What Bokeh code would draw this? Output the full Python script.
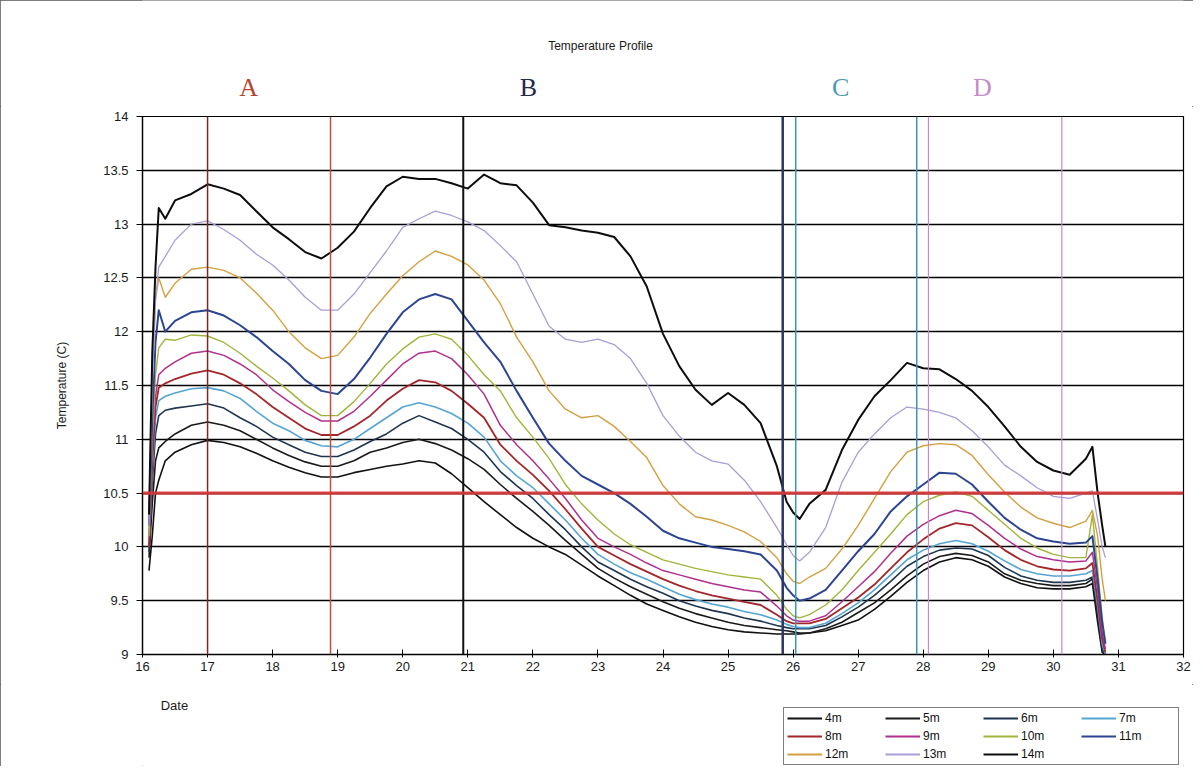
from bokeh.plotting import figure
from bokeh.layouts import column
from bokeh.models import (Range1d, Span, Label, Legend, LegendItem,
                          FixedTicker, CustomJSTickFormatter)
from bokeh.embed import file_html
from bokeh.resources import INLINE

# ---------------- data ----------------
days = [16.1, 16.15, 16.2, 16.25, 16.35, 16.5, 16.75,
        17.0, 17.25, 17.5, 17.75, 18.0, 18.25, 18.5, 18.75, 19.0, 19.25,
        19.5, 19.75, 20.0, 20.25, 20.5, 20.75, 21.0, 21.25, 21.5, 21.75,
        22.0, 22.25, 22.5, 22.75, 23.0, 23.25, 23.5, 23.75, 24.0, 24.25,
        24.5, 24.75, 25.0, 25.25, 25.5, 25.75,
        25.9, 26.0, 26.1,
        26.25, 26.5, 26.75, 27.0, 27.25, 27.5, 27.75, 28.0, 28.25, 28.5,
        28.75, 29.0, 29.25, 29.5, 29.75, 30.0, 30.25, 30.5,
        30.6, 30.68, 30.75, 30.8]

t4 = [9.78, 10.1, 10.5, 10.62, 10.8, 10.88, 10.95,
      10.99, 10.97, 10.93, 10.87, 10.8, 10.74, 10.69, 10.65, 10.65, 10.69, 10.72, 10.75, 10.77, 10.8, 10.78, 10.68, 10.55, 10.42, 10.3, 10.18,
      10.08, 10.0, 9.93, 9.83, 9.73, 9.64, 9.55, 9.47, 9.41, 9.35, 9.3, 9.26, 9.23, 9.21, 9.2, 9.19,
      9.19, 9.19, 9.19,
      9.2, 9.22, 9.27, 9.32, 9.42, 9.54, 9.67, 9.78, 9.86, 9.9, 9.88, 9.82, 9.72, 9.66, 9.62, 9.61, 9.61, 9.63,
      9.66, 9.3, 9.02, 9.0]
t5 = [9.9, 10.4, 10.8, 10.92, 10.98, 11.05, 11.13,
      11.16, 11.13, 11.08, 11.0, 10.92, 10.85, 10.79, 10.75, 10.75, 10.8, 10.88, 10.92, 10.97, 11.0, 10.96, 10.9, 10.82, 10.72, 10.58, 10.45,
      10.33, 10.2, 10.06, 9.93, 9.8, 9.71, 9.63, 9.56, 9.49, 9.43, 9.38, 9.34, 9.3, 9.27, 9.25, 9.23,
      9.22, 9.21, 9.2,
      9.2, 9.24, 9.3, 9.39, 9.48, 9.6, 9.73, 9.84, 9.91, 9.94, 9.92, 9.86, 9.75, 9.69, 9.66, 9.64, 9.64, 9.66,
      9.7, 9.35, 9.05, 9.0]
t6 = [9.95, 10.6, 11.05, 11.22, 11.27, 11.29, 11.31,
      11.33, 11.29, 11.2, 11.12, 11.02, 10.95, 10.88, 10.84, 10.84, 10.9, 10.98, 11.05, 11.15, 11.22, 11.16, 11.1, 11.0, 10.88, 10.7, 10.57,
      10.45, 10.3, 10.16, 10.0, 9.86, 9.78, 9.7, 9.63, 9.57, 9.5, 9.45, 9.41, 9.38, 9.34, 9.31, 9.27,
      9.25, 9.24, 9.24,
      9.24, 9.27, 9.35, 9.44, 9.55, 9.68, 9.82, 9.91, 9.97, 9.99, 9.98, 9.92, 9.81, 9.73, 9.69, 9.67, 9.67, 9.69,
      9.72, 9.4, 9.05, 9.0]
t7 = [10.0, 10.7, 11.2, 11.36, 11.4, 11.43, 11.47,
      11.48, 11.45, 11.38, 11.26, 11.15, 11.08, 10.99, 10.94, 10.93, 11.0, 11.1, 11.2, 11.3, 11.34, 11.3, 11.24, 11.15, 11.02, 10.8, 10.66,
      10.55, 10.4, 10.25, 10.08, 9.93, 9.84, 9.76, 9.7, 9.63, 9.56, 9.51, 9.47, 9.44, 9.4, 9.37, 9.32,
      9.28, 9.26, 9.25,
      9.25, 9.29, 9.38, 9.48, 9.6, 9.74, 9.88, 9.97, 10.03, 10.06, 10.03, 9.96, 9.87, 9.79, 9.75, 9.73, 9.73, 9.75,
      9.78, 9.45, 9.1, 9.0]
t8 = [10.0, 10.8, 11.3, 11.48, 11.52, 11.56, 11.61,
      11.64, 11.6, 11.52, 11.42, 11.3, 11.2, 11.1, 11.04, 11.04, 11.12, 11.22, 11.36, 11.47, 11.55, 11.53, 11.45, 11.33, 11.2, 10.95, 10.8,
      10.67, 10.52, 10.35, 10.17, 10.0, 9.92, 9.84, 9.77, 9.7, 9.64, 9.59, 9.55, 9.52, 9.49, 9.46, 9.37,
      9.31, 9.29, 9.29,
      9.29, 9.33, 9.43, 9.53, 9.65, 9.8, 9.95, 10.07, 10.17, 10.22, 10.2, 10.09, 9.97, 9.88, 9.82, 9.79, 9.78, 9.8,
      9.85, 9.5, 9.15, 9.02]
t9 = [10.1, 10.9, 11.4, 11.6, 11.66, 11.72, 11.8,
      11.82, 11.78, 11.7, 11.6, 11.46, 11.35, 11.25, 11.17, 11.17, 11.26, 11.4, 11.55, 11.7, 11.8, 11.82, 11.75, 11.6, 11.42, 11.13, 10.95,
      10.8, 10.63, 10.45, 10.25, 10.08, 10.0, 9.93, 9.85, 9.78, 9.74, 9.7, 9.66, 9.63, 9.6, 9.58, 9.45,
      9.36, 9.32, 9.31,
      9.31, 9.36, 9.49, 9.63, 9.77, 9.94, 10.1, 10.21, 10.29, 10.34, 10.31, 10.2, 10.08, 9.98, 9.91, 9.88, 9.86, 9.87,
      9.95, 9.6, 9.2, 9.05]
t10 = [10.1, 11.0, 11.6, 11.85, 11.93, 11.92, 11.97,
       11.96, 11.9, 11.8, 11.68, 11.57, 11.45, 11.32, 11.22, 11.22, 11.35, 11.52, 11.7, 11.84, 11.95, 11.98, 11.93, 11.78, 11.6, 11.45, 11.2,
       11.02, 10.82, 10.58, 10.4, 10.25, 10.12, 10.02, 9.95, 9.88, 9.84, 9.8, 9.77, 9.74, 9.72, 9.7, 9.55,
       9.42, 9.36, 9.34,
       9.37, 9.46, 9.6, 9.78, 9.95, 10.12, 10.3, 10.42, 10.48, 10.51, 10.47, 10.34, 10.21, 10.08, 9.99, 9.93, 9.9, 9.9,
       10.3, 9.8, 9.35, 9.1]
t11 = [10.2, 11.2, 11.9, 12.2, 12.0, 12.1, 12.18,
       12.2, 12.15, 12.06, 11.95, 11.82, 11.7, 11.55, 11.45, 11.42, 11.56, 11.76, 11.98, 12.18, 12.3, 12.35, 12.3, 12.1, 11.9, 11.72, 11.45,
       11.2, 10.96, 10.8, 10.66, 10.58, 10.5, 10.4, 10.28, 10.15, 10.08, 10.04, 10.0, 9.98, 9.96, 9.93, 9.78,
       9.62, 9.55, 9.5,
       9.52, 9.6, 9.78, 9.96, 10.12, 10.33, 10.47, 10.58, 10.69, 10.68, 10.58, 10.42, 10.27, 10.16, 10.08, 10.05, 10.03, 10.04,
       10.1, 9.7, 9.3, 9.1]
t12 = [10.3, 11.6, 12.3, 12.5, 12.32, 12.45, 12.58,
       12.6, 12.57, 12.5, 12.36, 12.2, 12.0, 11.85, 11.75, 11.78, 11.95, 12.17, 12.35, 12.52, 12.65, 12.75, 12.7, 12.62, 12.48, 12.26, 11.95,
       11.72, 11.45, 11.28, 11.2, 11.22, 11.12, 10.98, 10.83, 10.57, 10.4, 10.28, 10.25, 10.2, 10.14, 10.05, 9.9,
       9.75, 9.68, 9.66,
       9.72, 9.8, 9.98, 10.2, 10.45, 10.7, 10.88, 10.94, 10.96, 10.95, 10.85, 10.67, 10.51, 10.37, 10.27, 10.22, 10.18, 10.24,
       10.34, 10.1, 9.7, 9.5]
t13 = [10.2, 11.5, 12.3, 12.6, 12.7, 12.85, 13.0,
       13.03, 12.95, 12.85, 12.72, 12.62, 12.48, 12.32, 12.2, 12.2, 12.35, 12.55, 12.75, 12.97, 13.05, 13.12, 13.08, 13.02, 12.94, 12.8, 12.65,
       12.35, 12.05, 11.93, 11.9, 11.93, 11.88, 11.75, 11.52, 11.22, 11.03, 10.88, 10.8, 10.77, 10.62, 10.42, 10.18,
       10.02, 9.92, 9.87,
       9.95, 10.18, 10.6, 10.88, 11.05, 11.2, 11.3, 11.28, 11.25, 11.2, 11.08, 10.93, 10.76, 10.66, 10.55, 10.47, 10.45, 10.5,
       10.52, 10.25, 10.0, 9.9]
t14 = [10.3, 11.8, 12.6, 13.15, 13.05, 13.22, 13.28,
       13.37, 13.33, 13.27, 13.12, 12.97, 12.86, 12.74, 12.68, 12.78, 12.93, 13.15, 13.35, 13.44, 13.42, 13.42, 13.38, 13.33, 13.46, 13.38, 13.36,
       13.2, 12.99, 12.97, 12.94, 12.92, 12.88, 12.7, 12.42, 11.98, 11.68, 11.46, 11.32, 11.43, 11.32, 11.15, 10.75,
       10.42, 10.32, 10.26,
       10.4, 10.53, 10.9, 11.18, 11.4, 11.55, 11.71, 11.66, 11.65, 11.56, 11.45, 11.3, 11.12, 10.93, 10.79, 10.71, 10.67, 10.82,
       10.93, 10.5, 10.2, 10.0]

series_names = ["4m", "5m", "6m", "7m", "8m", "9m", "10m", "11m", "12m", "13m", "14m"]
series_values = [t4, t5, t6, t7, t8, t9, t10, t11, t12, t13, t14]
series_colors = ["#111111", "#1a1a1a", "#1e3550", "#55a5d2", "#a3262a", "#b0308e",
                 "#a2b43c", "#2c4590", "#d3a040", "#ab9dd8", "#0d0d0d"]
series_widths = [1.6, 1.6, 1.6, 1.6, 1.8, 1.5, 1.4, 2.0, 1.4, 1.3, 2.0]

for v in series_values:
    assert len(v) == len(days), len(v)

# marker lines (date, colour, width) and section letters (date, letter, colour)
marker_days = [17.0, 18.89, 20.93, 25.84, 26.04, 27.9, 28.08, 30.13]
marker_colors = ["#7a2a22", "#c2503c", "#111111", "#2b3563", "#3f93b3", "#3f93b3", "#c68ac6", "#c68ac6"]
marker_widths = [1.5, 1.5, 2.0, 2.5, 1.5, 1.5, 1.2, 1.2]
section_days = [17.63, 21.93, 26.73, 28.91]
section_letters = ["A", "B", "C", "D"]
section_colors = ["#b4432f", "#1f2a4f", "#4a9ab4", "#c58ccb"]
threshold = 10.5

y_ticks = [9, 9.5, 10, 10.5, 11, 11.5, 12, 12.5, 13, 13.5, 14]
x_ticks = list(range(16, 33))

# page geometry (the page has no margin): frame spans x 142..1183, y 116..654
W = 1193
LEFT, RIGHT = 142, 10
HEAD_H, MAIN_TOP, MAIN_H, FOOT_H = 106, 10, 578, 82
x_range = Range1d(16, 32)

# ---------------- header: title and section letters ----------------
head = figure(width=W, height=HEAD_H, output_backend="svg", toolbar_location=None,
              x_range=x_range, y_range=Range1d(HEAD_H, 0),
              x_axis_type=None, y_axis_type=None,
              min_border_left=LEFT, min_border_right=RIGHT,
              min_border_top=0, min_border_bottom=0,
              background_fill_color="white", border_fill_color="white")
head.outline_line_color = None
head.add_layout(Label(x=23.04, y=45, text="Temperature Profile",
                      text_font="Liberation Sans", text_font_size="12px",
                      text_color="#1a1a1a", text_align="center",
                      text_baseline="middle"))
for d, letter, c in zip(section_days, section_letters, section_colors):
    head.add_layout(Label(x=d, y=87, text=letter, text_color=c,
                          text_font="Liberation Serif", text_font_size="26px",
                          text_align="center", text_baseline="middle"))

# ---------------- main chart ----------------
p = figure(width=W, height=MAIN_H, output_backend="svg", toolbar_location=None,
           x_range=x_range, y_range=Range1d(9, 14),
           min_border_left=LEFT, min_border_right=RIGHT, min_border_top=MAIN_TOP,
           min_border_bottom=30, background_fill_color="white",
           border_fill_color="white")

p.outline_line_color = "black"
p.outline_line_width = 1.2
p.xgrid.visible = False
p.ygrid.ticker = FixedTicker(ticks=y_ticks)
p.ygrid.grid_line_color = "black"
p.ygrid.grid_line_width = 1.3

p.yaxis.ticker = FixedTicker(ticks=y_ticks)
p.yaxis.formatter = CustomJSTickFormatter(code="return String(tick);")
p.xaxis.ticker = FixedTicker(ticks=x_ticks)
for ax in (p.xaxis, p.yaxis):
    ax.axis_line_color = "black"
    ax.axis_line_width = 1.3
    ax.major_tick_line_color = "black"
    ax.minor_tick_line_color = None
    ax.major_label_text_font = "Liberation Sans"
    ax.major_label_text_font_size = "13px"
    ax.major_label_text_color = "#1a1a1a"
p.xaxis.major_tick_in = 5
p.xaxis.major_tick_out = 3
p.xaxis.major_label_standoff = 4
p.yaxis.major_tick_in = 0
p.yaxis.major_tick_out = 6
p.yaxis.major_label_standoff = 8
p.yaxis.axis_label = "Temperature (C)"
p.yaxis.axis_label_text_font = "Liberation Sans"
p.yaxis.axis_label_text_font_size = "12px"
p.yaxis.axis_label_text_font_style = "normal"
p.yaxis.axis_label_text_color = "#1a1a1a"
p.yaxis.axis_label_standoff = 31

for name, vals, col, w in zip(series_names, series_values, series_colors, series_widths):
    p.line(days, vals, line_color=col, line_width=w, line_join="round")

for d, c, w in zip(marker_days, marker_colors, marker_widths):
    p.add_layout(Span(location=d, dimension="height", line_color=c, line_width=w))
p.add_layout(Span(location=threshold, dimension="width", line_color="#d43a3a",
                  line_width=3.2, line_alpha=0.95))

# ---------------- footer: x-axis title and legend ----------------
foot = figure(width=W, height=FOOT_H, output_backend="svg", toolbar_location=None,
              x_range=x_range, y_range=Range1d(FOOT_H, 0),
              x_axis_type=None, y_axis_type=None,
              min_border_left=LEFT, min_border_right=RIGHT,
              min_border_top=0, min_border_bottom=0,
              background_fill_color="white", border_fill_color="white")
foot.outline_line_color = None
foot.add_layout(Label(x=16.28, y=21, text="Date", text_font="Liberation Sans",
                      text_font_size="13px", text_color="#1a1a1a",
                      text_align="left", text_baseline="middle"))
nan = float("nan")
keys = []
for name, col, w in zip(series_names, series_colors, series_widths):
    r = foot.line([nan], [nan], line_color=col, line_width=max(w, 1.8))
    keys.append(LegendItem(label=name, renderers=[r]))
legend = Legend(items=keys, location=(641, 1), orientation="horizontal", ncols=4,
                border_line_color="black", border_line_width=1,
                background_fill_color="white", background_fill_alpha=1,
                label_text_font="Liberation Sans", label_text_font_size="12px",
                label_text_color="#111111", glyph_width=35, glyph_height=14,
                label_height=14, label_width=56, label_standoff=3,
                spacing=4, padding=3, margin=0)
foot.add_layout(legend)

layout = column(head, p, foot, spacing=0)
layout.styles = {"outline": "1px solid #555555", "outline-offset": "-1px"}

open("out.html", "w").write(file_html(layout, INLINE))
